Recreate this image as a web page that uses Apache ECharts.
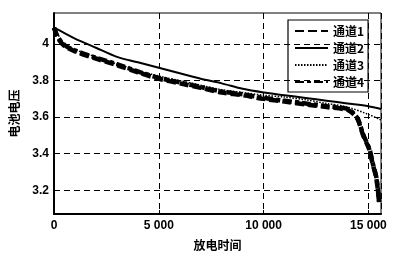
<!DOCTYPE html>
<html><head><meta charset="utf-8">
<script src="https://cdn.jsdelivr.net/npm/echarts@6/dist/echarts.min.js"></script>
<style>html,body{margin:0;padding:0;background:#fff}#c{width:410px;height:256px}</style>
</head><body><div id="c"></div>
<script>
const seriesNames = ['通道1','通道2','通道3','通道4'];
const xTicks = [0, 5000, 10000, 15000];
const yTicks = [3.2, 3.4, 3.6, 3.8, 4.0];

const t1 = [0,200,500,1000,2000,3000,4000,5000,6000,7000,8000,9000,10000,11000,12000,13000,14000,14300,14500,14750,15050,15190,15370,15470,15510];
const v1 = [4.09,4.03,3.99,3.96,3.92,3.885,3.845,3.81,3.785,3.76,3.735,3.72,3.70,3.685,3.67,3.655,3.64,3.615,3.585,3.50,3.42,3.35,3.27,3.18,3.13];

const t2 = [0,500,1000,2000,3000,4000,5000,6000,7000,8000,9000,10000,11000,12000,13000,14000,15000,15600];
const v2 = [4.09,4.06,4.03,3.98,3.93,3.90,3.87,3.84,3.81,3.785,3.755,3.735,3.72,3.705,3.69,3.675,3.66,3.645];

const t3 = [0,500,1000,2000,3000,4000,5000,6000,7000,8000,9000,10000,11000,12000,13000,14000,15000,15600];
const v3 = [4.09,4.00,3.97,3.93,3.89,3.855,3.825,3.80,3.775,3.75,3.735,3.72,3.71,3.695,3.675,3.655,3.615,3.585];

const t4 = [0,200,500,1000,2000,3000,4000,5000,6000,7000,8000,9000,10000,11000,12000,13000,14000,14300,14500,14750,15050,15190,15370,15470,15510];
const v4 = [4.09,4.035,3.995,3.965,3.925,3.89,3.85,3.815,3.79,3.765,3.74,3.725,3.705,3.69,3.675,3.66,3.645,3.62,3.59,3.505,3.425,3.355,3.275,3.185,3.135];

const pairs = (t, v) => t.map((x, i) => [x, v[i]]);
const font = '"Liberation Sans", Arial, sans-serif';
const cjk = '"Noto Sans CJK SC", sans-serif';

const chart = echarts.init(document.getElementById('c'), null, {renderer: 'canvas'});
const styles = [
  {width: 4.5, type: [9, 4]},
  {width: 2, type: 'solid'},
  {width: 1.5, type: [1.5, 1.5]},
  {width: 4.5, type: [9, 3, 4, 3]}
];
const datas = [pairs(t1, v1), pairs(t2, v2), pairs(t3, v3), pairs(t4, v4)];
const series = seriesNames.map((n, i) => ({
  name: n, type: 'line', data: datas[i], symbol: 'none', smooth: 0.3,
  lineStyle: Object.assign({color: '#000'}, styles[i]), itemStyle: {color: '#000'},
  z: i === 1 ? 5 : 4
}));
series[1].markLine = {
  silent: true, symbol: 'none', label: {show: false},
  lineStyle: {color: '#000', type: [6, 4], width: 1},
  data: yTicks.map(v => ({yAxis: v}))
};
const clear = {color: 'rgba(0,0,0,0)', borderWidth: 0, borderColor: 'rgba(0,0,0,0)'};
chart.setOption({
  backgroundColor: '#fff',
  animation: false,
  grid: {left: 49, top: 13, right: 29, bottom: 38, show: true, borderColor: '#000', borderWidth: 1},
  legend: {
    orient: 'vertical', left: 288, top: 20, itemWidth: 33, itemHeight: 10, itemGap: 5,
    backgroundColor: '#fff', borderColor: '#000', borderWidth: 1.2, padding: [5, 4, 4, 6],
    textStyle: {fontFamily: cjk, fontSize: 12, fontWeight: 'bold', color: '#000'},
    itemStyle: clear,
    data: seriesNames.map(n => ({name: n, itemStyle: clear}))
  },
  xAxis: [{
    type: 'value', min: 0, max: 15600, interval: 5000,
    name: '放电时间', nameLocation: 'middle', nameGap: 25,
    nameTextStyle: {fontFamily: cjk, fontSize: 12, fontWeight: 'bold', color: '#000'},
    axisLine: {show: true, lineStyle: {color: '#000', width: 2}},
    axisTick: {show: true, inside: true, length: 4, lineStyle: {color: '#000'}},
    axisLabel: {color: '#000', fontFamily: font, fontWeight: 'bold', fontSize: 12, margin: 6,
      formatter: v => v >= 1000 ? String(v).replace(/(\d)(?=(\d{3})$)/, '$1 ') : String(v)},
    splitLine: {show: true, lineStyle: {color: '#000', type: [6, 4], width: 1}}
  }],
  yAxis: [{
    type: 'value', min: 3.07, max: 4.17,
    name: '电池电压', nameLocation: 'middle', nameGap: 34, nameRotate: 90,
    nameTextStyle: {fontFamily: cjk, fontSize: 12, fontWeight: 'bold', color: '#000'},
    axisLine: {show: true, lineStyle: {color: '#000', width: 2}},
    axisTick: {show: true, inside: true, length: 4, customValues: yTicks, lineStyle: {color: '#000'}},
    axisLabel: {color: '#000', fontFamily: font, fontWeight: 'bold', fontSize: 12, margin: 5,
      customValues: yTicks, formatter: v => (Math.abs(v - 4) < 1e-9 ? '4' : v.toFixed(1))},
    splitLine: {show: false}
  }],
  series: series
});
</script></body></html>
